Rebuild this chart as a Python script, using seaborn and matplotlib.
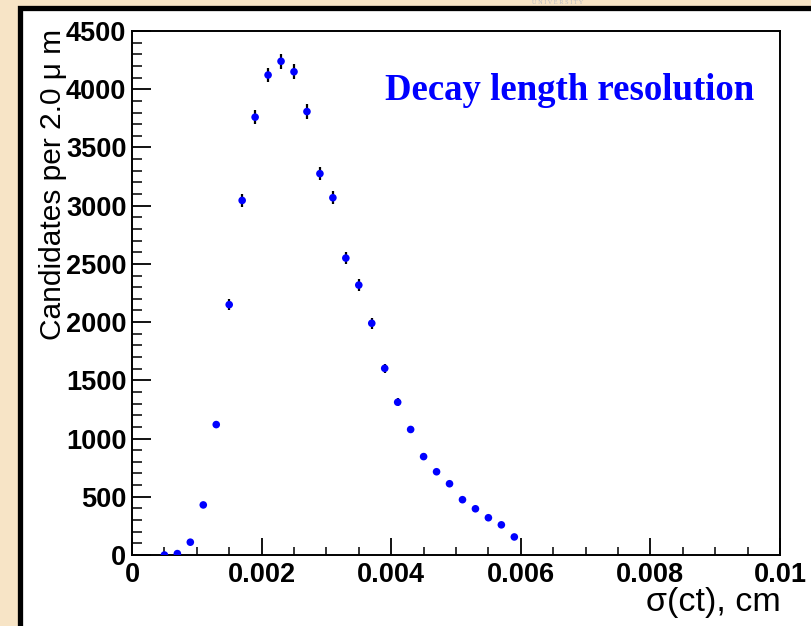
import numpy as np
import pandas as pd
import matplotlib
matplotlib.use("Agg")
import matplotlib.pyplot as plt
from matplotlib.patches import Rectangle
from matplotlib.ticker import MultipleLocator
import seaborn as sns

# ---- data ----
sigma_ct = [0.0005, 0.0007, 0.0009, 0.0011, 0.0013, 0.0015, 0.0017, 0.0019,
            0.0021, 0.0023, 0.0025, 0.0027, 0.0029, 0.0031, 0.0033, 0.0035,
            0.0037, 0.0039, 0.0041, 0.0043, 0.0045, 0.0047, 0.0049, 0.0051,
            0.0053, 0.0055, 0.0057, 0.0059]
candidates = [0, 12, 110, 430, 1120, 2150, 3045, 3760,
              4122, 4240, 4150, 3808, 3275, 3068, 2550, 2318,
              1990, 1603, 1312, 1078, 845, 715, 612, 475,
              397, 320, 259, 155]
errors = [0, 4, 11, 21, 33, 46, 55, 61,
          64, 65, 64, 62, 57, 55, 50, 48,
          45, 40, 36, 33, 29, 27, 25, 22,
          20, 18, 16, 12]
x_ticks = [0, 0.002, 0.004, 0.006, 0.008, 0.01]
x_ticklabels = ["0", "0.002", "0.004", "0.006", "0.008", "0.01"]
y_ticks = [0, 500, 1000, 1500, 2000, 2500, 3000, 3500, 4000, 4500]

df = pd.DataFrame({"sigma_ct": sigma_ct, "candidates": candidates, "err": errors})

sns.set_theme(style="white")
plt.rcParams["font.family"] = ["Liberation Sans", "DejaVu Sans"]

W, H = 812, 626
fig = plt.figure(figsize=(W / 100, H / 100), dpi=100)
fig.patch.set_facecolor("#f7e4c6")

# white slide panel with thick black border (runs off right and bottom)
panel = Rectangle((20.5 / W, -0.05), 1.2, 1 - 7.5 / H + 0.05,
                  transform=fig.transFigure, facecolor="white",
                  edgecolor="black", linewidth=3.8, zorder=-10)
fig.patches.append(panel)

fig.text(0.655, 1 - 2.5 / H, "U N I V E R S I T Y", color="#a9b0c0", fontsize=4.5,
         ha="left", va="center", alpha=0.8, family="Liberation Serif")

ax = fig.add_axes([132 / W, 1 - 555 / H, 648 / W, 524 / H])
ax.set_zorder(5)
ax.set_facecolor("white")

ax.errorbar(df["sigma_ct"], df["candidates"], yerr=df["err"], fmt="none",
            ecolor="black", elinewidth=1.6, capsize=0, zorder=2)
sns.scatterplot(data=df, x="sigma_ct", y="candidates", ax=ax, color="#0000ff",
                s=30, edgecolor="none", linewidth=0, zorder=3, legend=False)

ax.set_xlim(0, 0.01)
ax.set_ylim(0, 4500)
ax.set_xticks(x_ticks)
ax.set_xticklabels(x_ticklabels)
ax.set_yticks(y_ticks)
ax.xaxis.set_minor_locator(MultipleLocator(0.0005))
ax.yaxis.set_minor_locator(MultipleLocator(100))
ax.set_xlabel("")
ax.set_ylabel("")

for sp in ax.spines.values():
    sp.set_visible(True)
    sp.set_color("black")
    sp.set_linewidth(1.4)

ax.tick_params(axis="both", which="both", direction="in", top=False, right=False,
               bottom=True, left=True, color="black")
ax.tick_params(axis="y", which="major", length=14, width=1.3, pad=4)
ax.tick_params(axis="y", which="minor", length=7, width=1.1)
ax.tick_params(axis="x", which="major", length=12, width=1.3, pad=5)
ax.tick_params(axis="x", which="minor", length=6, width=1.1)
for lab in ax.get_xticklabels() + ax.get_yticklabels():
    lab.set_fontsize(19.5)
    lab.set_fontweight("bold")
    lab.set_color("black")

fig.text(53 / W, 1 - 29 / H, "Candidates per 2.0 \u03bc m", rotation=90,
         ha="center", va="top", fontsize=21.5, color="black", zorder=6)
fig.text(781 / W, 1 - 603 / H, "\u03c3(ct), cm", ha="right", va="center",
         fontsize=24.5, color="black", zorder=6)

ax.text(0.39, 0.887, "Decay length resolution", transform=ax.transAxes,
        ha="left", va="center", fontsize=26.5, fontweight="bold",
        color="#0000ff", family="Liberation Serif")

fig.savefig("out.png", dpi=100, facecolor=fig.get_facecolor())
